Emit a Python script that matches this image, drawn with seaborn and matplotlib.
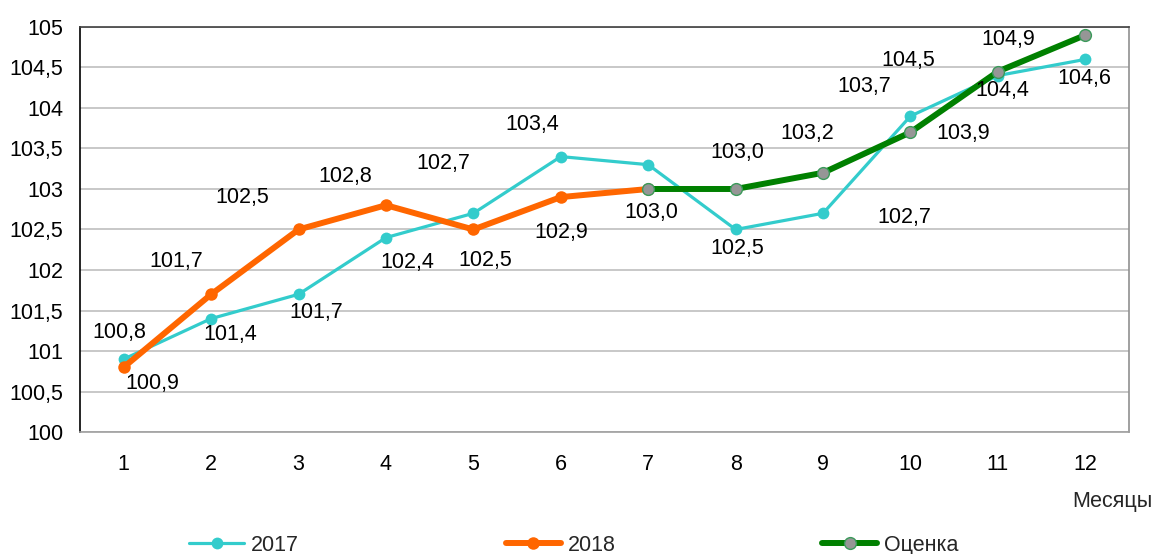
import numpy as np
import pandas as pd
import seaborn as sns
import matplotlib.pyplot as plt

months = list(range(1, 13))
v2017 = [100.9, 101.4, 101.7, 102.4, 102.7, 103.4, 103.3, 102.5, 102.7, 103.9, 104.4, 104.6]
months_2018 = list(range(1, 8))
v2018 = [100.8, 101.7, 102.5, 102.8, 102.5, 102.9, 103.0]
months_est = list(range(7, 13))
v_est = [103.0, 103.0, 103.2, 103.7, 104.45, 104.9]

# подписи данных (как на исходном графике)
label_text = ['100,8', '100,9', '101,7', '101,4', '102,5', '101,7', '102,8', '102,4',
              '102,7', '102,5', '103,4', '102,9', '103,0', '103,0', '102,5', '103,2',
              '103,7', '104,5', '103,9', '102,7', '104,9', '104,4', '104,6']
label_pos = [(0.95, 101.23), (1.33, 100.6), (1.6, 102.1), (2.22, 101.2), (2.36, 102.9),
             (3.2, 101.48), (3.53, 103.16), (4.24, 102.09), (4.66, 103.31), (5.14, 102.12),
             (5.67, 103.8), (6.01, 102.46), (7.04, 102.71), (8.02, 103.45), (8.02, 102.27),
             (8.82, 103.69), (9.47, 104.27), (9.98, 104.59), (10.6, 103.69), (9.93, 102.65),
             (11.12, 104.85), (11.05, 104.21), (11.99, 104.37)]

sns.set_theme(style="white")
plt.rcParams['font.family'] = ['Liberation Sans', 'DejaVu Sans']
fs = 15.5

fig = plt.figure(figsize=(11.55, 5.54), dpi=100)
ax = fig.add_axes([0.0693, 0.2202, 0.9082, 0.7311])

sns.lineplot(x=months, y=v2017, ax=ax, color='#33CCCC', linewidth=2.3,
             marker='o', markersize=8.5, markeredgewidth=0, label='2017')
sns.lineplot(x=months_2018, y=v2018, ax=ax, color='#FF6600', linewidth=4.3,
             marker='o', markersize=9, markeredgewidth=0, label='2018')
sns.lineplot(x=months_est, y=v_est, ax=ax, color='#008000', linewidth=4.3,
             marker='o', markersize=8.5, markerfacecolor='#969696',
             markeredgecolor='#3A9A5A', markeredgewidth=1, label='Оценка')

for s, (x, y) in zip(label_text, label_pos):
    ax.text(x, y, s, ha='center', va='center', fontsize=fs, color='black')

ax.set_xlim(0.5, 12.5)
ax.set_ylim(100, 105)
ax.set_xticks(months)
yt = np.arange(100, 105.01, 0.5)
ax.set_yticks(yt)
ax.set_yticklabels([f'{v:g}'.replace('.', ',') for v in yt])
ax.yaxis.grid(True, color='#BFBFBF', linewidth=1.2)
ax.set_axisbelow(True)
ax.tick_params(axis='both', length=0, labelsize=fs, colors='black')
ax.tick_params(axis='y', pad=12)
ax.tick_params(axis='x', pad=16)
ax.set_xlabel('')
ax.set_ylabel('')

ax.spines['left'].set_color('black')
ax.spines['top'].set_color('#404040')
ax.spines['right'].set_color('#909090')
ax.spines['bottom'].set_color('#A0A0A0')
for sp in ax.spines.values():
    sp.set_linewidth(1.2)

handles, labels = ax.get_legend_handles_labels()
ax.get_legend().remove()
fig.legend(handles, labels, loc='center', bbox_to_anchor=(0.497, 0.016), ncol=3,
           frameon=False, handlelength=2.55, columnspacing=9.6, handletextpad=0.33,
           fontsize=fs)

fig.text(1152 / 1155, 1 - 502 / 554, 'Месяцы', ha='right', va='center', fontsize=fs)

fig.savefig('out.png', dpi=100)
